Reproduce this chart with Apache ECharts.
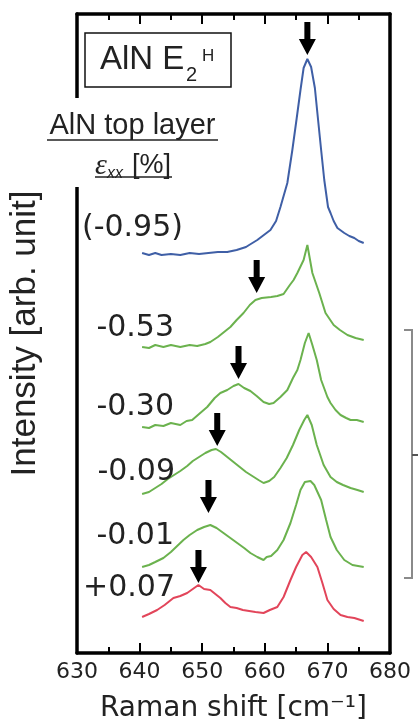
<!DOCTYPE html>
<html><head><meta charset="utf-8">
<script src="https://cdn.jsdelivr.net/npm/echarts@6/dist/echarts.min.js"></script>
<style>html,body{margin:0;padding:0;background:#fff}#c{width:418px;height:727px}</style>
</head><body><div id="c"></div>
<script>
// Raman shift [cm-1] vs intensity [arb. unit] (stacked, offset traces)
const xMin = 630, xMax = 680, xStep = 10;
const strainLabels = ['(-0.95)', '-0.53', '-0.30', '-0.09', '-0.01', '+0.07'];

const trace095 = [[640.4,400],[641.5,398],[642.5,400],[643.5,398],[645,399],[646.5,398],[648,400],[649.5,399],[651,400],[652.5,401],[654,401],[655.5,403],[657,406],[657.5,408],[658.8,413],[660.9,423],[661.8,432],[662.5,446],[663.6,470],[664.4,503],[665.1,535],[665.7,563],[666.2,585],[666.8,594],[667.4,586],[668,565],[668.4,540],[669,503],[669.5,473],[670.1,446],[670.5,440],[671,432],[671.6,425],[672.7,420],[673.5,417],[674.3,415],[675,412],[675.8,410]];
const trace053 = [[640.4,306],[641.5,305],[642.5,308],[643.8,306],[645,308],[646.5,306],[648,308],[649.2,307],[650.5,309],[651.3,311],[652.5,316],[653.5,321],[654.5,326],[655.5,333],[656.6,340],[657.6,348],[658.5,353],[659.5,355],[661,356],[662,357],[663,359],[664,368],[664.6,373],[665.2,380],[666.2,393],[666.8,408],[667.6,380],[668.7,360],[669.7,340],[671,328],[672,323],[673.2,318],[674.5,315],[675.8,313]];
const trace030 = [[640.4,226],[641.5,225],[642.5,228],[643.8,227],[645,230],[646.5,228],[647.5,232],[648.4,233],[649.5,239],[650.8,246],[652,255],[652.9,260],[654,263],[655,267],[655.8,269],[656.7,265],[657.7,262],[658.7,257],[659.8,251],[660.7,249],[661.4,250],[662.5,256],[663.6,263],[664.5,275],[665.2,283],[665.7,293],[666.4,310],[667,320],[667.6,308],[668.3,293],[669,273],[670,256],[670.5,250],[671.3,243],[672.1,238],[673,235],[673.7,233],[674.7,233],[675.8,231]];
const trace009 = [[640.4,159],[641.5,161],[642.5,165],[643.5,169],[644.5,174],[645.5,178],[646.5,182],[647.6,187],[648.5,192],[649.5,196],[650.5,200],[651.5,203],[652.2,204],[653,201],[654,196],[655,191],[656,186],[657,181],[658,177],[659,173],[659.8,170],[660.7,172],[661.5,176],[662.5,185],[663.5,195],[664.5,208],[665.5,223],[666.3,233],[666.8,238],[667.5,228],[668.3,208],[669.4,188],[670.5,176],[671.5,171],[672.5,168],[673.7,165],[674.8,163],[675.8,161]];
const trace001 = [[640.4,86],[641.5,88],[642.5,91],[643.8,95],[645,101],[646,107],[647,113],[648,118],[649.2,123],[650.3,126],[651.3,128],[652.3,125],[653.4,120],[654.5,115],[655.6,110],[656.7,105],[657.7,100],[658.8,96],[659.8,93],[660.3,96],[661,97],[662,103],[663,113],[664.1,130],[665,148],[665.7,163],[666.4,171],[667.3,172],[667.9,168],[669,153],[669.8,133],[670.5,116],[671.5,103],[672.7,93],[674,88],[675.8,86]];
const trace007 = [[640.4,36],[641.5,39],[642.8,43],[644,48],[645.4,55],[646.5,57],[647.6,60],[648.5,64],[649.4,68],[650.3,64],[651.3,63],[652.1,59],[652.9,55],[653.7,50],[654.5,46],[655.5,45],[656.5,43],[657.5,42],[658.5,41],[659.8,40],[660.8,43],[662,46],[663,56],[664.1,73],[665,86],[666,98],[666.6,101],[667.4,96],[668.4,86],[669.2,70],[670,53],[671,44],[672.1,38],[673.2,36],[674.3,35],[675.8,32]];
const arrowTips = [[666.8,598],[658.7,360],[655.8,274],[652.4,207],[651,140],[649.4,70]];

const BLUE = '#3f5fa6', GREEN = '#6bb24e', RED = '#e2455a';
const NUM = '"DejaVu Sans", sans-serif';
const SANS = '"Liberation Sans", Arial, sans-serif';

const lineSeries = (name, data, color) => ({
  name, type: 'line', data, symbol: 'none', smooth: false,
  lineStyle: { color, width: 2 }, z: 3, silent: true
});

const chart = echarts.init(document.getElementById('c'));
chart.setOption({
  animation: false,
  backgroundColor: '#fff',
  grid: { left: 77, right: 28, top: 14, bottom: 74, containLabel: false, outerBoundsMode: 'none' },
  xAxis: [
    { type: 'value', min: xMin, max: xMax, interval: xStep, position: 'bottom',
      axisLine: { show: true, onZero: false, lineStyle: { color: '#000', width: 3.5 } },
      axisTick: { show: true, inside: true, length: 10, lineStyle: { color: '#000', width: 2 } },
      minorTick: { show: true, splitNumber: 2, length: 6, lineStyle: { color: '#000', width: 2 } },
      splitLine: { show: false },
      axisLabel: { show: true, color: '#222', fontFamily: NUM, fontSize: 22, margin: 8 },
      name: 'Raman shift [cm\u207B\u00B9]', nameLocation: 'middle', nameGap: 42,
      nameTextStyle: { fontFamily: NUM, fontSize: 28, color: '#222', lineHeight: 28 } },
    { type: 'value', min: xMin, max: xMax, interval: xStep, position: 'top',
      axisLine: { show: true, onZero: false, lineStyle: { color: '#000', width: 3.5 } },
      axisTick: { show: true, inside: true, length: 10, lineStyle: { color: '#000', width: 2 } },
      minorTick: { show: true, splitNumber: 2, length: 6, lineStyle: { color: '#000', width: 2 } },
      splitLine: { show: false }, axisLabel: { show: false } }
  ],
  yAxis: [
    {
      type: 'value', min: 0, max: 639, position: 'left',
      axisLine: { show: true, onZero: false, lineStyle: { color: '#000', width: 3.5 } },
      axisTick: { show: false }, axisLabel: { show: false }, splitLine: { show: false },
      name: 'Intensity [arb. unit]', nameLocation: 'middle', nameGap: 34,
      nameTextStyle: { fontFamily: SANS, fontSize: 35, color: '#222' }
    },
    {
      type: 'value', min: 0, max: 639, position: 'right',
      axisLine: { show: true, onZero: false, lineStyle: { color: '#000', width: 3.5 } },
      axisTick: { show: false }, axisLabel: { show: false }, splitLine: { show: false }
    }
  ],
  series: [
    lineSeries(strainLabels[0], trace095, BLUE),
    lineSeries(strainLabels[1], trace053, GREEN),
    lineSeries(strainLabels[2], trace030, GREEN),
    lineSeries(strainLabels[3], trace009, GREEN),
    lineSeries(strainLabels[4], trace001, GREEN),
    lineSeries(strainLabels[5], trace007, RED),
    {
      name: 'peak', type: 'scatter', data: arrowTips, z: 5, silent: true,
      symbol: 'path://M5.5,0L11.5,0L11.5,17L17,17L8.5,33L0,17L5.5,17Z',
      symbolSize: [17, 33], symbolOffset: [0, '-50%'],
      itemStyle: { color: '#000', opacity: 1 }
    }
  ],
  graphic: [
    { type: 'rect', shape: { x: 40, y: 98, width: 186, height: 89 }, style: { fill: '#fff' }, z: 100 },
    { type: 'rect', shape: { x: 85, y: 33, width: 146, height: 54 }, style: { fill: '#fff', stroke: '#111', lineWidth: 1.5 }, z: 100 },
    { type: 'text', x: 100, y: 60, z: 101, style: { text: 'AlN E', font: '33px ' + SANS, fill: '#222', verticalAlign: 'middle', align: 'left' } },
    { type: 'text', x: 186, y: 75, z: 101, style: { text: '2', font: '20px ' + SANS, fill: '#222', verticalAlign: 'middle', align: 'left' } },
    { type: 'text', x: 202, y: 56, z: 101, style: { text: 'H', font: '17px ' + SANS, fill: '#222', verticalAlign: 'middle', align: 'left' } },
    { type: 'text', x: 132.5, y: 126, z: 101, style: { text: 'AlN top layer', font: '29px ' + SANS, fill: '#222', verticalAlign: 'middle', align: 'center' } },
    { type: 'line', shape: { x1: 47, y1: 140, x2: 218, y2: 140 }, style: { stroke: '#222', lineWidth: 1.5 }, z: 101 },
    { type: 'text', x: 95, y: 166, z: 101, style: { text: 'ε', font: 'italic 30px "Liberation Serif", serif', fill: '#222', verticalAlign: 'middle', align: 'left' } },
    { type: 'text', x: 107, y: 174, z: 101, style: { text: 'xx', font: 'italic 16px ' + SANS, fill: '#222', verticalAlign: 'middle', align: 'left' } },
    { type: 'text', x: 132, y: 166, z: 101, style: { text: '[%]', font: '27px ' + SANS, fill: '#222', verticalAlign: 'middle', align: 'left' } },
    { type: 'line', shape: { x1: 95, y1: 177, x2: 172, y2: 177 }, style: { stroke: '#222', lineWidth: 1.5 }, z: 101 },
    { type: 'text', x: 183, y: 228, z: 50, style: { text: strainLabels[0], font: '30px ' + NUM, fill: '#222', verticalAlign: 'middle', align: 'right' } },
    { type: 'text', x: 174, y: 328, z: 50, style: { text: strainLabels[1], font: '30px ' + NUM, fill: '#222', verticalAlign: 'middle', align: 'right' } },
    { type: 'text', x: 174, y: 407, z: 50, style: { text: strainLabels[2], font: '30px ' + NUM, fill: '#222', verticalAlign: 'middle', align: 'right' } },
    { type: 'text', x: 175, y: 472, z: 50, style: { text: strainLabels[3], font: '30px ' + NUM, fill: '#222', verticalAlign: 'middle', align: 'right' } },
    { type: 'text', x: 174, y: 536, z: 50, style: { text: strainLabels[4], font: '30px ' + NUM, fill: '#222', verticalAlign: 'middle', align: 'right' } },
    { type: 'text', x: 175, y: 588, z: 50, style: { text: strainLabels[5], font: '30px ' + NUM, fill: '#222', verticalAlign: 'middle', align: 'right' } },
    { type: 'polyline', shape: { points: [[404, 330], [412, 330], [412, 578], [404, 578]] }, style: { stroke: '#8a8a8a', lineWidth: 2, fill: null }, z: 50 },
    { type: 'line', shape: { x1: 412, y1: 455, x2: 418, y2: 455 }, style: { stroke: '#555', lineWidth: 2 }, z: 50 }
  ]
});
</script></body></html>
